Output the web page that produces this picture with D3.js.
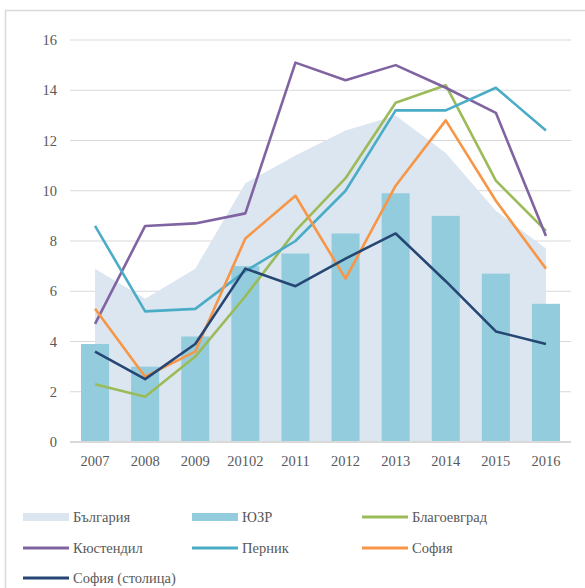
<!DOCTYPE html>
<html>
<head>
<meta charset="utf-8">
<script src="https://cdn.jsdelivr.net/npm/d3@7"></script>
<style>
  body { margin: 0; background: #fff; }
  svg text { font-family: "Liberation Serif", serif !important; }
</style>
</head>
<body>
<div id="chart"></div>
<script>
// categories and series
var years = ["2007", "2008", "2009", "20102", "2011", "2012", "2013", "2014", "2015", "2016"];
var bulgaria = [6.9, 5.7, 6.9, 10.3, 11.4, 12.4, 13.0, 11.5, 9.2, 7.7];
var yuzr = [3.9, 3.0, 4.2, 7.0, 7.5, 8.3, 9.9, 9.0, 6.7, 5.5];
var blagoevgrad = [2.3, 1.8, 3.4, 5.8, 8.4, 10.5, 13.5, 14.2, 10.4, 8.4];
var kyustendil = [4.7, 8.6, 8.7, 9.1, 15.1, 14.4, 15.0, 14.1, 13.1, 8.2];
var pernik = [8.6, 5.2, 5.3, 6.8, 8.0, 10.0, 13.2, 13.2, 14.1, 12.4];
var sofiaObl = [5.3, 2.6, 3.6, 8.1, 9.8, 6.5, 10.2, 12.8, 9.6, 6.9];
var sofiaCap = [3.6, 2.5, 3.9, 6.9, 6.2, 7.3, 8.3, 6.4, 4.4, 3.9];
var yTicks = [0, 2, 4, 6, 8, 10, 12, 14, 16];

var lines = [
    {name: "Благоевград", values: blagoevgrad, color: "#9BBB59"},
    {name: "Кюстендил", values: kyustendil, color: "#8064A2"},
    {name: "Перник", values: pernik, color: "#4BACC6"},
    {name: "София", values: sofiaObl, color: "#F79646"},
    {name: "София (столица)", values: sofiaCap, color: "#264673"}
];

var width = 585, height = 588;
var margin = {top: 40, right: 14, bottom: 146, left: 70};

var svg = d3.select("#chart")
    .append("svg")
    .attr("width", width)
    .attr("height", height)
    .attr("font-family", "Liberation Serif");

// chart frame (runs off the right and bottom edges)
svg.append("rect")
    .attr("x", 5.5)
    .attr("y", 10.5)
    .attr("width", width + 20)
    .attr("height", height + 20)
    .attr("fill", "none")
    .attr("stroke", "#D9D9D9")
    .attr("stroke-width", 1.5);

var x = d3.scaleBand()
    .domain(years)
    .range([margin.left, width - margin.right])
    .paddingInner(0.44)
    .paddingOuter(0.22);

var y = d3.scaleLinear()
    .domain([0, 16])
    .range([height - margin.bottom, margin.top]);

var cx = function (d, i) { return x(years[i]) + x.bandwidth() / 2; };

// gridlines
svg.append("g")
    .selectAll("line")
    .data(yTicks)
    .enter()
    .append("line")
    .attr("x1", margin.left)
    .attr("x2", width - margin.right)
    .attr("y1", function (d) { return y(d); })
    .attr("y2", function (d) { return y(d); })
    .attr("stroke", "#D9D9D9")
    .attr("stroke-width", 1);

// area
var area = d3.area()
    .x(cx)
    .y0(y(0))
    .y1(function (d) { return y(d); });

svg.append("path")
    .datum(bulgaria)
    .attr("fill", "#DCE6F1")
    .attr("d", area);

// bars
svg.append("g")
    .selectAll("rect")
    .data(yuzr)
    .enter()
    .append("rect")
    .attr("x", function (d, i) { return x(years[i]); })
    .attr("width", x.bandwidth())
    .attr("y", function (d) { return y(d); })
    .attr("height", function (d) { return y(0) - y(d); })
    .attr("fill", "#93CDDD");

// baseline on top of bars
svg.append("line")
    .attr("x1", margin.left)
    .attr("x2", width - margin.right)
    .attr("y1", y(0))
    .attr("y2", y(0))
    .attr("stroke", "#D9D9D9")
    .attr("stroke-width", 2);

// lines
var line = d3.line()
    .x(cx)
    .y(function (d) { return y(d); });

lines.forEach(function (s) {
    svg.append("path")
        .datum(s.values)
        .attr("fill", "none")
        .attr("stroke", s.color)
        .attr("stroke-width", 2.6)
        .attr("stroke-linejoin", "round")
        .attr("d", line);
});

// axes
var yAxis = d3.axisLeft(y).tickValues(yTicks).tickSize(0).tickPadding(13);
svg.append("g")
    .attr("transform", "translate(" + margin.left + ",0)")
    .call(yAxis)
    .attr("font-family", null)
    .attr("font-size", 14.5)
    .call(function (g) { g.select(".domain").remove(); })
    .selectAll("text")
    .attr("fill", "#595959");

var xAxis = d3.axisBottom(x).tickSize(0).tickPadding(14);
svg.append("g")
    .attr("transform", "translate(0," + y(0) + ")")
    .call(xAxis)
    .attr("font-family", null)
    .attr("font-size", 14.5)
    .call(function (g) { g.select(".domain").remove(); })
    .selectAll("text")
    .attr("fill", "#595959");

// legend
var legendItems = [
    {name: "България", color: "#DCE6F1", type: "area"},
    {name: "ЮЗР", color: "#93CDDD", type: "bar"}
].concat(lines.map(function (s) { return {name: s.name, color: s.color, type: "line"}; }));

var colX = [23, 192, 362];
var rowY = [517, 548, 578];

var leg = svg.append("g")
    .selectAll("g")
    .data(legendItems)
    .enter()
    .append("g")
    .attr("transform", function (d, i) {
        return "translate(" + colX[i % 3] + "," + rowY[Math.floor(i / 3)] + ")";
    });

leg.each(function (d) {
    var g = d3.select(this);
    if (d.type === "line") {
        g.append("line")
            .attr("x1", 0).attr("x2", 46)
            .attr("y1", 0).attr("y2", 0)
            .attr("stroke", d.color)
            .attr("stroke-width", 3);
    } else {
        g.append("rect")
            .attr("x", 0).attr("y", -4)
            .attr("width", 46).attr("height", 8)
            .attr("fill", d.color);
    }
});

leg.append("text")
    .attr("x", 50)
    .attr("y", 0)
    .attr("dy", "0.35em")
    .attr("font-size", 14.5)
    .attr("fill", "#595959")
    .text(function (d) { return d.name; });
</script>
</body>
</html>
